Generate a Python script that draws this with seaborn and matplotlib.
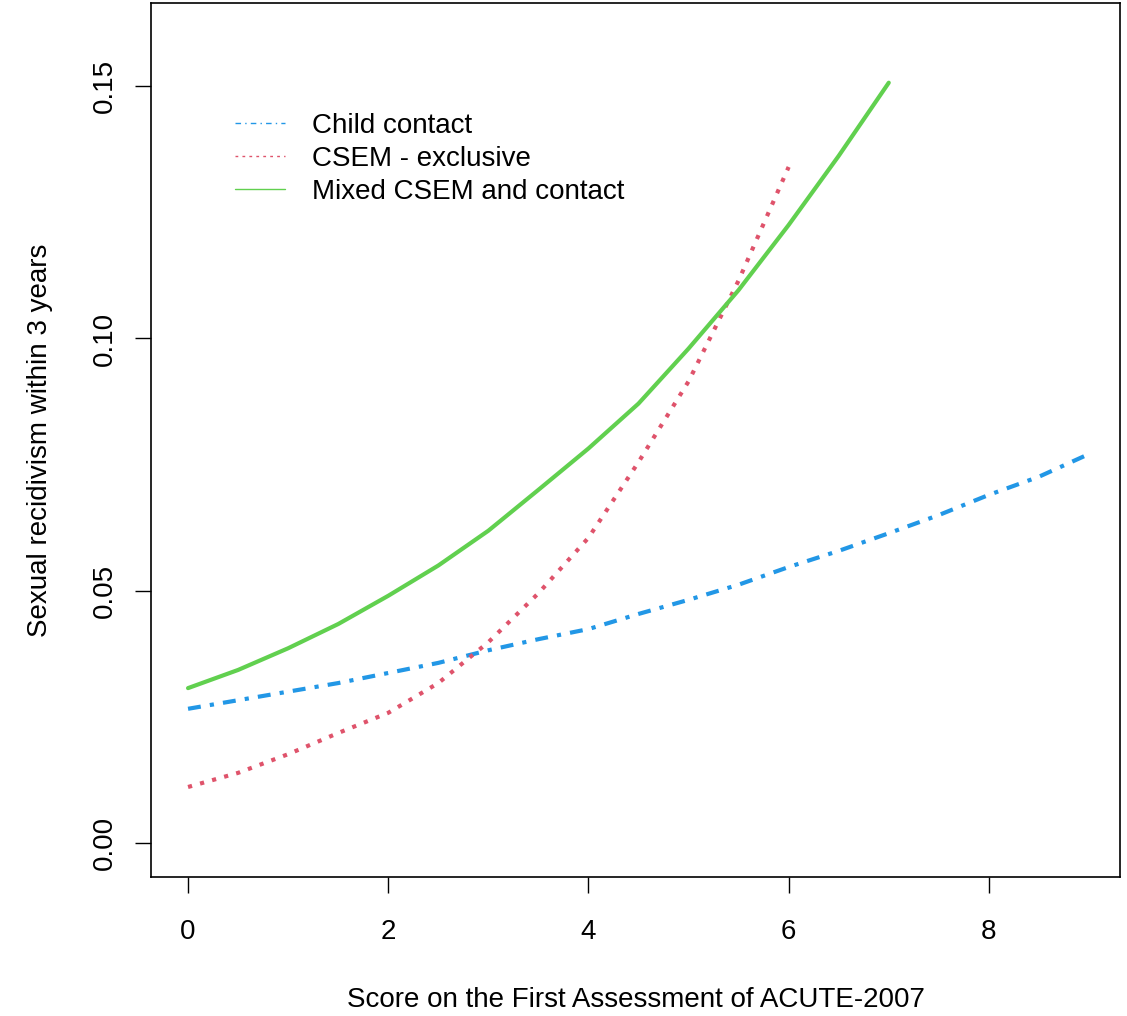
import matplotlib
matplotlib.use("Agg")
import matplotlib.pyplot as plt
import seaborn as sns
from matplotlib.lines import Line2D

sns.set_theme(style="white")
plt.rcParams['font.family'] = ['Liberation Sans', 'DejaVu Sans']

# Data
child_x = [0, 0.5, 1, 1.5, 2, 2.5, 3, 3.5, 4, 4.5, 5, 5.5, 6, 6.5, 7, 7.5, 8, 8.5, 9]
child_y = [0.0266, 0.0283, 0.0300, 0.0317, 0.0337, 0.0357, 0.0382, 0.0404, 0.0424,
           0.0454, 0.0482, 0.0512, 0.0547, 0.0579, 0.0614, 0.0650, 0.0690, 0.0726, 0.0771]

csem_x = [0, 0.5, 1, 1.5, 2, 2.5, 3, 3.5, 4, 4.5, 5, 5.5, 6]
csem_y = [0.0111, 0.0139, 0.0176, 0.0218, 0.0258, 0.0317, 0.0398, 0.0495, 0.0605,
          0.0755, 0.0915, 0.1115, 0.1340]

mixed_x = [0, 0.5, 1, 1.5, 2, 2.5, 3, 3.5, 4, 4.5, 5, 5.5, 6, 6.5, 7]
mixed_y = [0.0307, 0.0343, 0.0386, 0.0434, 0.0490, 0.0550, 0.0619, 0.0700, 0.0782,
           0.0871, 0.0980, 0.1096, 0.1225, 0.1362, 0.1507]

labels = ["Child contact", "CSEM - exclusive", "Mixed CSEM and contact"]
x_ticks = [0, 2, 4, 6, 8]
y_ticks = [0.00, 0.05, 0.10, 0.15]
y_tick_labels = ["0.00", "0.05", "0.10", "0.15"]

colors = ["#2297E6", "#DF536B", "#61D04F"]

fig = plt.figure(figsize=(11.27, 10.16), dpi=100)
ax = fig.add_axes([151/1127, 139/1016, (1120-151)/1127, (877-3)/1016])

lw = 3.0
sns.lineplot(x=child_x, y=child_y, ax=ax, color=colors[0], linewidth=lw)
ax.lines[-1].set_dashes([3.1, 2.2, 1.0, 2.2])
sns.lineplot(x=csem_x, y=csem_y, ax=ax, color=colors[1], linewidth=lw)
ax.lines[-1].set_dashes([1.0, 2.0])
sns.lineplot(x=mixed_x, y=mixed_y, ax=ax, color=colors[2], linewidth=lw)

ax.set_xlim(-0.37, 9.31)
ax.set_ylim(-0.00674, 0.1665)

for s in ax.spines.values():
    s.set_color("black")
    s.set_linewidth(1.2)

fs = 20
ax.set_xticks(x_ticks)
ax.set_xticklabels([str(t) for t in x_ticks])
ax.set_yticks(y_ticks)
ax.set_yticklabels(y_tick_labels, rotation=90, va="center")
ax.tick_params(axis="both", which="both", direction="out", length=11.5, width=1.0,
               color="black", labelsize=fs, labelcolor="black", left=True, bottom=True)
ax.tick_params(axis="x", pad=19)
ax.tick_params(axis="y", pad=12)

ax.set_xlabel("Score on the First Assessment of ACUTE-2007", fontsize=fs, color="black", labelpad=30)
ax.set_ylabel("Sexual recidivism within 3 years", fontsize=fs, color="black", labelpad=28.5)

# Legend
h1 = Line2D([], [], color=colors[0], linewidth=1.0, dashes=[4, 3, 1, 3])
h2 = Line2D([], [], color=colors[1], linewidth=1.0, dashes=[2, 3])
h3 = Line2D([], [], color=colors[2], linewidth=1.0)
leg = ax.legend([h1, h2, h3], labels, loc="upper left",
                bbox_to_anchor=((224-151)/969, (877-102)/874),
                frameon=False, fontsize=fs, handlelength=1.8, handletextpad=0.97,
                labelspacing=0.25, borderaxespad=0)
for t in leg.get_texts():
    t.set_color("black")

fig.savefig("out.png", dpi=100, facecolor="white")
